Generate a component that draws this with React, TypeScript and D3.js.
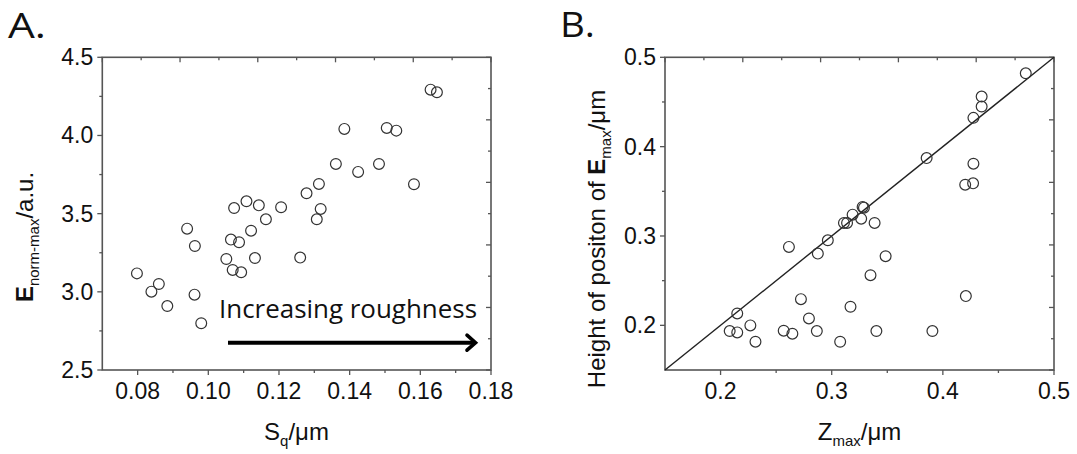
import React from 'react';
import * as d3 from 'd3';

// ---------- Panel A data ----------
const sqA = [0.0798, 0.0839, 0.0860, 0.0884, 0.0940, 0.0962, 0.0961, 0.0980, 0.1051, 0.1064, 0.1073, 0.1069,
  0.1087, 0.1093, 0.1108, 0.1121, 0.1132, 0.1143, 0.1163, 0.1206, 0.1260, 0.1278, 0.1307, 0.1313, 0.1318,
  0.1361, 0.1385, 0.1424, 0.1483, 0.1505, 0.1532, 0.1582, 0.1629, 0.1647];
const eNormA = [3.118, 3.001, 3.050, 2.909, 3.404, 3.293, 2.982, 2.799, 3.210, 3.334, 3.536, 3.140,
  3.317, 3.125, 3.579, 3.391, 3.216, 3.553, 3.464, 3.541, 3.219, 3.630, 3.464, 3.690, 3.530,
  3.818, 4.042, 3.767, 3.818, 4.048, 4.031, 3.688, 4.293, 4.276];
const xTicksA = [0.08, 0.10, 0.12, 0.14, 0.16, 0.18];
const yTicksA = [2.5, 3.0, 3.5, 4.0, 4.5];

// ---------- Panel B data ----------
const zMaxB = [0.2082, 0.2150, 0.2150, 0.2268, 0.2314, 0.2568, 0.2646, 0.2615, 0.2723, 0.2795, 0.2866, 0.2875,
  0.2965, 0.3076, 0.3110, 0.3138, 0.3169, 0.3188, 0.3265, 0.3278, 0.3290, 0.3349, 0.3386, 0.3402, 0.3485,
  0.3854, 0.3906, 0.4201, 0.4207, 0.4272, 0.4275, 0.4275, 0.4349, 0.4349, 0.4746];
const heightB = [0.1936, 0.2133, 0.1921, 0.1999, 0.1817, 0.1940, 0.1906, 0.2878, 0.2293, 0.2077, 0.1936, 0.2803,
  0.2952, 0.1816, 0.3146, 0.3146, 0.2208, 0.3239, 0.3194, 0.3325, 0.3317, 0.2561, 0.3146, 0.1936, 0.2774,
  0.3872, 0.1936, 0.3574, 0.2327, 0.3589, 0.3809, 0.4322, 0.4449, 0.4561, 0.4821];
const xTicksB = [0.2, 0.3, 0.4, 0.5];
const yTicksB = [0.2, 0.3, 0.4, 0.5];

const AXIS = '#555';
const TXT = '#111';
const SANS = '"Liberation Sans", Arial, sans-serif';
const HUMAN = '"Open Sans", "Noto Sans", sans-serif';

type Props = {
  x: d3.ScaleLinear<number, number>;
  y: d3.ScaleLinear<number, number>;
  xMajor: number[];
  yMajor: number[];
  xFmt: (v: number) => string;
  yFmt: (v: number) => string;
};

function mids(arr: number[]): number[] {
  const out: number[] = [];
  for (let i = 0; i < arr.length - 1; i++) out.push((arr[i] + arr[i + 1]) / 2);
  return out;
}

function Frame({ x, y, xMajor, yMajor, xFmt, yFmt }: Props) {
  const [x0, x1] = x.range();
  const [y0, y1] = y.range(); // y0 bottom, y1 top
  const xd = x.domain();
  const yd = y.domain();
  const xMinor = mids(xMajor);
  const yMinor = mids(yMajor);
  const mirrorX = d3.range(0, 11).map((i) => xd[0] + (i * (xd[1] - xd[0])) / 10);
  const mirrorY = d3.range(0, 11).map((i) => yd[0] + (i * (yd[1] - yd[0])) / 10);
  const MJ = 5;
  const MN = 3;
  return (
    <g>
      <rect x={x0} y={y1} width={x1 - x0} height={y0 - y1} fill="none" stroke={AXIS} strokeWidth={1.6} />
      {xMajor.map((v, i) => (
        <line key={'xb' + i} x1={x(v)} x2={x(v)} y1={y0} y2={y0 + MJ} stroke={AXIS} strokeWidth={1.3} />
      ))}
      {xMinor.map((v, i) => (
        <line key={'xbm' + i} x1={x(v)} x2={x(v)} y1={y0} y2={y0 + MN} stroke={AXIS} strokeWidth={1.3} />
      ))}
      {yMajor.map((v, i) => (
        <line key={'yl' + i} x1={x0 - MJ} x2={x0} y1={y(v)} y2={y(v)} stroke={AXIS} strokeWidth={1.3} />
      ))}
      {yMinor.map((v, i) => (
        <line key={'ylm' + i} x1={x0 - MN} x2={x0} y1={y(v)} y2={y(v)} stroke={AXIS} strokeWidth={1.3} />
      ))}
      {mirrorX.map((v, i) => (
        <line key={'xt' + i} x1={x(v)} x2={x(v)} y1={y1} y2={y1 + (i % 2 === 0 ? MJ : MN)} stroke={AXIS} strokeWidth={1.3} />
      ))}
      {mirrorY.map((v, i) => (
        <line key={'yr' + i} x1={x1 - (i % 2 === 0 ? MJ : MN)} x2={x1} y1={y(v)} y2={y(v)} stroke={AXIS} strokeWidth={1.3} />
      ))}
      {xMajor.map((v, i) => (
        <text key={'xl' + i} x={x(v)} y={y0 + 29} textAnchor="middle" fontFamily={SANS} fontSize={23} fill={TXT}>
          {xFmt(v)}
        </text>
      ))}
      {yMajor.map((v, i) => (
        <text key={'yt' + i} x={x0 - 9} y={y(v) + 8} textAnchor="end" fontFamily={SANS} fontSize={23} fill={TXT}>
          {yFmt(v)}
        </text>
      ))}
    </g>
  );
}

export default function App() {
  const xA = d3.scaleLinear().domain([0.07, 0.18]).range([102.3, 491]);
  const yA = d3.scaleLinear().domain([2.5, 4.5]).range([370, 57.3]);
  const xB = d3.scaleLinear().domain([0.15, 0.5]).range([665, 1054]);
  const yB = d3.scaleLinear().domain([0.15, 0.5]).range([370, 57.3]);

  const diag = d3.line<number>().x((d) => xB(d)).y((d) => yB(d));

  const R = 5.4;

  return (
    <svg width={1077} height={454} style={{ position: 'absolute', left: 0, top: 0, background: '#fff' }}>
      <rect x={0} y={0} width={1077} height={454} fill="#fff" />
      <text x={8} y={38} fontFamily={HUMAN} fontSize={34} fill="#111" textLength={38} lengthAdjust="spacingAndGlyphs">A.</text>
      <text x={560} y={37} fontFamily={HUMAN} fontSize={34} fill="#111" textLength={35} lengthAdjust="spacingAndGlyphs">B.</text>

      {/* ---------- Panel A ---------- */}
      <Frame x={xA} y={yA} xMajor={xTicksA} yMajor={yTicksA} xFmt={(v) => v.toFixed(2)} yFmt={(v) => v.toFixed(1)} />
      {sqA.map((v, i) => (
        <circle key={'a' + i} cx={xA(v)} cy={yA(eNormA[i])} r={R} fill="none" stroke="#333" strokeWidth={1.2} />
      ))}
      <text x={219} y={318} fontFamily={HUMAN} fontSize={25} fill="#111" textLength={258} lengthAdjust="spacingAndGlyphs">
        Increasing roughness
      </text>
      <line x1={228} y1={342.7} x2={473} y2={342.7} stroke="#000" strokeWidth={4} />
      <polyline points="467,335.2 475.5,342.7 467,350.2" fill="none" stroke="#000" strokeWidth={3.6} strokeLinecap="round" strokeLinejoin="miter" />

      <text x={296.5} y={440} textAnchor="middle" fontFamily={SANS} fontSize={24} fill={TXT}>
        S<tspan fontSize={15} dy={6}>q</tspan><tspan dy={-6}>/μm</tspan>
      </text>
      <text transform="translate(33,237) rotate(-90)" textAnchor="middle" fontFamily={SANS} fontSize={24} fill={TXT}>
        <tspan fontWeight="bold">E</tspan><tspan fontSize={15} dy={6}>norm-max</tspan><tspan dy={-6}>/a.u.</tspan>
      </text>

      {/* ---------- Panel B ---------- */}
      <Frame x={xB} y={yB} xMajor={xTicksB} yMajor={yTicksB} xFmt={(v) => v.toFixed(1)} yFmt={(v) => v.toFixed(1)} />
      <path d={diag([0.15, 0.5]) || ''} stroke="#222" strokeWidth={1.4} fill="none" />
      {zMaxB.map((v, i) => (
        <circle key={'b' + i} cx={xB(v)} cy={yB(heightB[i])} r={R} fill="none" stroke="#333" strokeWidth={1.2} />
      ))}
      <text x={859.5} y={440} textAnchor="middle" fontFamily={SANS} fontSize={24} fill={TXT}>
        Z<tspan fontSize={15} dy={6}>max</tspan><tspan dy={-6}>/μm</tspan>
      </text>
      <text transform="translate(605,239) rotate(-90)" textAnchor="middle" fontFamily={SANS} fontSize={24} fill={TXT}>
        Height of positon of <tspan fontWeight="bold">E</tspan><tspan fontSize={15} dy={6}>max</tspan><tspan dy={-6}>/μm</tspan>
      </text>
    </svg>
  );
}
